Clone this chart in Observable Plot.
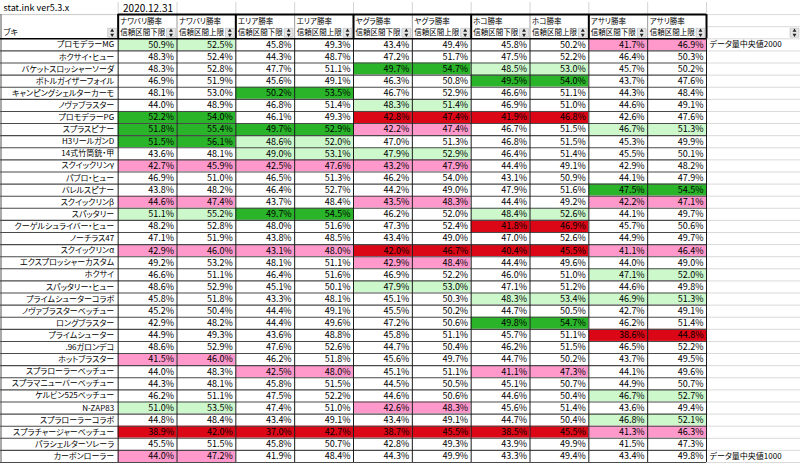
<!DOCTYPE html>
<html><head><meta charset="utf-8">
<script src="https://cdn.jsdelivr.net/npm/d3@7"></script>
<script src="https://cdn.jsdelivr.net/npm/@observablehq/plot@0.6"></script>
<style>
html,body{margin:0;padding:0;background:#fff;}
</style></head><body><div id="chart"></div>
<script>
// ---------- data ----------
const titleText = "stat.ink ver5.3.x";
const dateText = "2020.12.31";
const nameHeader = "ブキ";
const modes = ["ナワバリ勝率", "エリア勝率", "ヤグラ勝率", "ホコ勝率", "アサリ勝率"];
const boundLabels = ["信頼区間下限", "信頼区間上限"];
const weapons = [
  "プロモデラーMG", "ホクサイ・ヒュー", "バケットスロッシャーソーダ", "ボトルガイザーフォイル",
  "キャンピングシェルターカーモ", "ノヴァブラスター", "プロモデラーPG", "スプラスピナー",
  "H3リールガンD", "14式竹筒銃・甲", "スクイックリンγ", "パブロ・ヒュー", "バレルスピナー",
  "スクイックリンβ", "スパッタリー", "クーゲルシュライバー・ヒュー", "ノーチラス47",
  "スクイックリンα", "エクスプロッシャーカスタム", "ホクサイ", "スパッタリー・ヒュー",
  "プライムシューターコラボ", "ノヴァブラスターベッチュー", "ロングブラスター", "プライムシューター",
  ".96ガロンデコ", "ホットブラスター", "スプラローラーベッチュー", "スプラマニューバーベッチュー",
  "ケルビン525ベッチュー", "N-ZAP83", "スプラローラーコラボ", "スプラチャージャーベッチュー",
  "パラシェルターソレーラ", "カーボンローラー"
];
const nawabariLo = [50.9,48.3,48.3,46.9,48.1,44.0,52.2,51.8,51.5,43.6,42.7,46.9,43.8,44.6,51.1,48.2,47.1,42.9,49.2,46.6,48.6,45.8,45.2,42.9,44.9,48.6,41.5,44.0,44.3,46.2,51.0,44.8,38.9,45.5,44.0];
const nawabariHi = [52.5,52.4,52.8,51.9,53.0,48.9,54.0,55.4,56.1,48.1,45.9,51.0,48.2,47.4,55.2,52.8,51.9,46.0,53.2,51.1,52.9,51.8,50.4,48.2,49.3,52.9,46.0,48.3,48.1,51.1,53.5,48.4,42.0,51.5,47.2];
const areaLo     = [45.8,44.3,47.7,45.6,50.2,46.8,46.1,49.7,48.6,49.0,42.5,46.5,46.4,43.7,49.7,48.0,43.8,43.1,48.1,46.4,45.1,43.3,44.4,44.4,43.6,47.6,46.2,42.5,45.8,47.5,47.4,43.4,37.0,45.8,41.9];
const areaHi     = [49.3,48.7,51.1,49.1,53.5,51.4,49.3,52.9,52.0,53.1,47.6,51.3,52.7,48.4,54.5,51.6,48.5,48.0,51.1,51.6,50.1,48.1,49.1,49.6,48.8,52.6,51.8,48.0,51.5,52.2,51.0,49.1,42.7,50.7,48.4];
const yaguraLo   = [43.4,47.2,49.7,46.3,46.7,48.3,42.8,42.2,47.0,47.9,43.2,46.2,44.2,43.5,46.2,47.3,43.4,42.0,42.9,46.9,47.9,45.1,45.5,47.2,45.8,44.7,45.6,45.1,44.5,44.6,42.6,43.4,38.7,42.8,44.3];
const yaguraHi   = [49.4,51.7,54.7,50.8,52.9,51.4,47.4,47.4,51.3,52.9,47.9,54.0,49.0,48.3,52.0,52.4,49.0,46.7,48.4,52.2,53.0,50.3,50.2,50.6,51.1,50.4,49.7,51.1,50.5,50.6,48.3,49.1,45.5,49.3,49.9];
const hokoLo     = [45.8,47.5,48.5,49.5,46.6,46.9,41.9,46.7,46.8,46.4,44.4,43.1,47.9,44.4,48.4,41.8,47.0,40.4,44.4,46.0,47.1,48.3,44.7,49.8,45.7,46.2,44.7,41.1,45.1,44.6,45.6,44.7,38.5,43.9,43.3];
const hokoHi     = [50.2,52.2,53.0,54.0,51.1,51.0,46.8,51.5,51.5,51.4,49.1,50.9,51.6,49.2,52.6,46.9,52.6,45.5,49.6,51.0,51.2,53.4,50.5,54.7,51.1,51.5,50.2,47.3,50.7,50.4,51.4,50.4,45.5,49.9,49.4];
const asariLo    = [41.7,46.4,45.7,43.7,44.3,44.6,42.6,46.7,45.3,45.5,42.9,44.1,47.5,42.2,44.1,45.7,44.9,41.1,44.0,47.1,44.6,46.9,42.7,46.2,38.6,46.5,43.7,44.1,44.9,46.7,43.6,46.8,41.3,41.5,43.4];
const asariHi    = [46.9,50.3,50.2,47.6,48.4,49.1,47.6,51.3,49.9,50.1,48.2,47.9,54.5,47.1,49.7,50.6,49.7,46.4,49.0,52.0,49.8,51.3,49.1,51.4,44.8,52.2,49.5,49.6,50.7,52.7,49.4,52.1,46.3,47.3,49.8];
// highlight class per mode and weapon: L = light green, G = green, P = pink, R = red, . = none
const nawabariFlag = "L.....GGG.P..PL..P........P...L.R.P";
const areaFlag     = "....G..GLLP...G..P.........P....R..";
const yaguraFlag   = "..G..LRP.LP..P...RP.L.........P.R..";
const hokoFlag     = "..LG..R.......LR.R...L.G...P....R..";
const asariFlag    = "P......L....GP...P.L.L..R....L.LP..";
const noteWeapons = ["プロモデラーMG", "カーボンローラー"];
const noteTexts = ["データ量中央値2000", "データ量中央値1000"];

// ---------- build table ----------
const columnValues = [nawabariLo, nawabariHi, areaLo, areaHi, yaguraLo, yaguraHi, hokoLo, hokoHi, asariLo, asariHi];
const modeFlags = [nawabariFlag, areaFlag, yaguraFlag, hokoFlag, asariFlag];
const nCols = columnValues.length, nRows = weapons.length;
const cols = d3.range(nCols).map(c => ({c, mode: modes[Math.floor(c / 2)], bound: boundLabels[c % 2]}));
const cells = [];
weapons.forEach((w, r) => cols.forEach(({c}) => cells.push({
  r, c, v: columnValues[c][r], f: modeFlags[Math.floor(c / 2)][r]
})));

// ---------- layout (grid units) ----------
const W = 800, H = 464, mRight = 94;
const NAME0 = -2;                 // name column spans two grid units
const TOP0 = -3;                  // title row, then two header rows
const unit = (W - mRight) / (nCols - NAME0);
const NOTE1 = nCols + mRight / unit;
const iconX = [0, ...cols.map(d => d.c + 1), NOTE1];
const font = "'Noto Sans CJK JP', 'Noto Sans', sans-serif";

const chart = Plot.plot({
  width: W, height: H,
  marginLeft: 0, marginRight: mRight, marginTop: 2, marginBottom: 2,
  x: {domain: [NAME0, nCols], axis: null},
  y: {domain: [TOP0, nRows], reverse: true, axis: null},
  color: {domain: ["L", "G", "P", "R", "."], range: ["#ccf8cc", "#2ab42a", "#ff99cc", "#dc0716", "#ffffff"]},
  style: {fontFamily: font, background: "#fff", color: "#000", fontFeatureSettings: "'palt'"},
  marks: [
    // coloured cells
    Plot.rect(cells, {x1: "c", x2: d => d.c + 1, y1: "r", y2: d => d.r + 1, fill: "f"}),
    // light spreadsheet grid (title row, note column)
    Plot.ruleX(d3.range(0, nCols + 1), {x: d => d, y1: TOP0, y2: TOP0 + 1, stroke: "#d4d4d4"}),
    Plot.ruleY(d3.range(TOP0 + 1, nRows + 1), {y: d => d, x1: nCols, x2: NOTE1, stroke: "#dadada"}),
    Plot.ruleY([TOP0 + 1], {x1: NAME0, x2: 0, stroke: "#c8c8c8"}),
    // data grid
    Plot.ruleY(d3.range(1, nRows + 1), {y: d => d, x1: NAME0, x2: nCols, stroke: "#4a4a4a", strokeWidth: 1.1}),
    Plot.ruleX(d3.range(0, nCols + 1), {x: d => d, y1: 0, y2: nRows, stroke: "#1a1a1a"}),
    Plot.ruleX([NAME0], {y1: TOP0 + 1, y2: nRows, stroke: "#555", dx: 0.5}),
    // header box
    Plot.ruleX(cols.filter(d => d.c % 2 === 1), {x: "c", y1: TOP0 + 1, y2: 0, stroke: "#9a9a9a"}),
    Plot.ruleX(d3.range(0, nCols + 1, 2), {x: d => d, y1: TOP0 + 1, y2: 0, stroke: "#000", strokeWidth: 2}),
    Plot.ruleY([TOP0 + 1], {x1: 0, x2: nCols, stroke: "#000", strokeWidth: 2}),
    Plot.ruleY([0], {x1: NAME0, x2: nCols, stroke: "#000", strokeWidth: 1.5}),
    // sort icons
    Plot.dot(iconX, {x: d => d, y: -0.5, dx: -6, symbol: "square", r: 5, fill: "#e6e6e6", stroke: "#b5b5b5", strokeWidth: 0.6}),
    Plot.dot(iconX, {x: d => d, y: -0.5, dx: -6, dy: -2.1, symbol: "triangle", r: 1.45, fill: "#222"}),
    Plot.dot(iconX, {x: d => d, y: -0.5, dx: -6, dy: 2.1, symbol: "triangle", r: 1.45, rotate: 180, fill: "#222"}),
    // title row
    Plot.text([titleText], {x: NAME0, y: TOP0 + 0.5, dx: 3, textAnchor: "start", fontSize: 9}),
    Plot.text([dateText], {x: 1, y: TOP0 + 0.5, dx: -4, textAnchor: "end", fontSize: 10}),
    // header labels
    Plot.text(cols, {x: "c", y: -1.5, text: "mode", dx: 2, dy: 1, textAnchor: "start", fontSize: 7.5}),
    Plot.text(cols, {x: "c", y: -0.5, text: "bound", dx: 2, textAnchor: "start", fontSize: 7.5}),
    Plot.text([nameHeader], {x: NAME0, y: -0.5, dx: 3, textAnchor: "start", fontSize: 8}),
    // weapon names
    Plot.text(weapons, {x: 0, y: (d, i) => i + 0.5, text: d => d, dx: -4, textAnchor: "end", fontSize: 8}),
    // values
    Plot.text(cells, {x: d => d.c + 1, y: d => d.r + 0.5, text: d => d.v.toFixed(1) + "%", dx: -3, textAnchor: "end", fontSize: 9}),
    // notes
    Plot.text(noteTexts, {x: nCols, y: (d, i) => weapons.indexOf(noteWeapons[i]) + 0.5, text: d => d, dx: 3, textAnchor: "start", fontSize: 8})
  ]
});
document.getElementById("chart").appendChild(chart);
</script>
</body></html>
